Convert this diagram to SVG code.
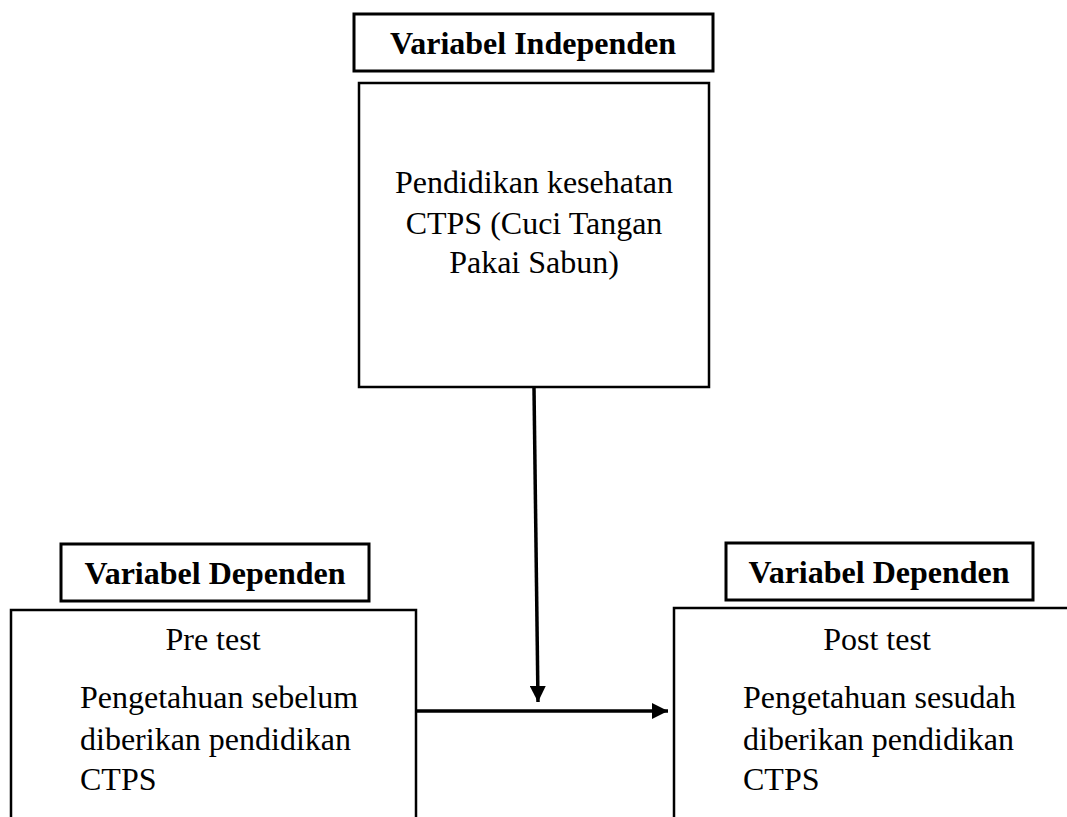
<svg xmlns="http://www.w3.org/2000/svg" width="1067" height="817" viewBox="0 0 1067 817">
<style>
.box{fill:#fff;stroke:#000;stroke-width:2.5}
.tbox{fill:#fff;stroke:#000;stroke-width:3}
.t{font-family:"Liberation Serif","Times New Roman",serif;font-size:32px;fill:#000}
.b{font-weight:bold}
.c{text-anchor:middle}
.conn{stroke:#000;stroke-width:3.5;fill:none}
</style>
<defs>
<marker id="ah" markerUnits="userSpaceOnUse" markerWidth="16" markerHeight="16" viewBox="0 0 16 16" refX="16" refY="8" orient="auto">
<path d="M0,0 L16,8 L0,16 Z" fill="#000"/>
</marker>
</defs>
<rect width="1067" height="817" fill="#fff"/>
<g id="title-independen">
<rect class="tbox" x="354" y="14" width="359" height="57"/>
<text class="t b c" x="533" y="54">Variabel Independen</text>
</g>
<g id="node-independen">
<rect class="box" x="359" y="83" width="350" height="304"/>
<text class="t c" x="534" y="193">Pendidikan kesehatan</text>
<text class="t c" x="534" y="234">CTPS (Cuci Tangan</text>
<text class="t c" x="534" y="273">Pakai Sabun)</text>
</g>
<g id="title-dependen-pre">
<rect class="tbox" x="61" y="544" width="308" height="57"/>
<text class="t b c" x="215" y="584">Variabel Dependen</text>
</g>
<g id="node-pre">
<rect class="box" x="11" y="610" width="405" height="230"/>
<text class="t c" x="213" y="650">Pre test</text>
<text class="t" x="80" y="708">Pengetahuan sebelum</text>
<text class="t" x="80" y="750">diberikan pendidikan</text>
<text class="t" x="80" y="790">CTPS</text>
</g>
<g id="title-dependen-post">
<rect class="tbox" x="726" y="543" width="307" height="57"/>
<text class="t b c" x="879" y="583">Variabel Dependen</text>
</g>
<g id="node-post">
<rect class="box" x="674" y="608" width="420" height="230"/>
<text class="t c" x="877" y="650">Post test</text>
<text class="t" x="743" y="708">Pengetahuan sesudah</text>
<text class="t" x="743" y="750">diberikan pendidikan</text>
<text class="t" x="743" y="790">CTPS</text>
</g>
<g id="connectors">
<line class="conn" x1="534" y1="388" x2="538" y2="702" marker-end="url(#ah)"/>
<line class="conn" x1="416" y1="711" x2="668" y2="711" marker-end="url(#ah)"/>
</g>
</svg>
